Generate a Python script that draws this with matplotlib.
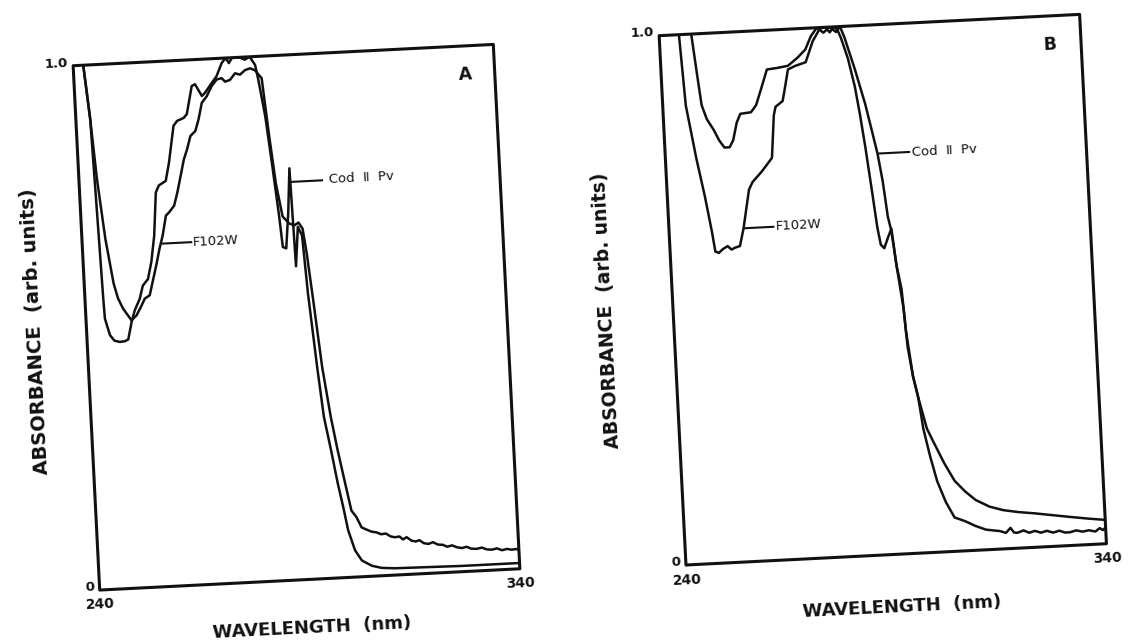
import matplotlib
matplotlib.use("Agg")
import matplotlib.pyplot as plt
from matplotlib.transforms import Affine2D
from matplotlib.patches import Polygon

# ---------------- Panel A spectra ----------------
a_cod_wl = [239.0, 242.4, 243.4, 243.83, 244.35, 244.5, 245.5, 246.5, 247.8, 249.0,
            249.8, 250.8, 251.7, 253.0, 253.9, 255.2, 256.2, 257.2, 258.1, 258.9,
            260.6, 261.6, 263.1, 264.0, 265.6, 266.4, 267.9, 268.7, 270.2, 271.0,
            272.7, 273.9, 275.3, 276.3, 277.0, 277.8, 279.5, 280.8, 282.0, 283.2,
            283.8, 285.0, 286.1, 287.1, 287.6, 288.4, 289.3, 290.1, 290.5, 291.4,
            292.3, 293.0, 294.3, 295.3, 296.6, 297.8, 298.8, 299.7, 301.1, 302.6,
            304.9, 307.2, 310.4, 318.3, 326.2, 333.0, 340.0]
a_cod_abs = [1.12, 1.0, 0.898, 0.745, 0.555, 0.516, 0.484, 0.473, 0.470, 0.471,
             0.474, 0.507, 0.529, 0.550, 0.575, 0.587, 0.619, 0.669, 0.751, 0.764,
             0.772, 0.807, 0.876, 0.885, 0.890, 0.897, 0.950, 0.953, 0.930, 0.936,
             0.954, 0.966, 0.991, 1.0, 0.99, 1.0, 1.0, 0.995, 1.0, 0.984,
             0.955, 0.885, 0.788, 0.693, 0.635, 0.632, 0.70, 0.784, 0.597, 0.672,
             0.655, 0.545, 0.404, 0.308, 0.244, 0.180, 0.135, 0.090, 0.051, 0.031,
             0.020, 0.015, 0.013, 0.012, 0.011, 0.011, 0.011]

a_f102w_wl = [239.0, 242.4, 243.4, 244.28, 245.56, 246.99, 247.86, 248.94, 250.8, 252.05,
              253.35, 254.2, 255.42, 257.32, 258.28, 259.2, 260.22, 261.04, 262.29, 263.22,
              264.19, 265.15, 266.04, 266.99, 268.22, 269.13, 270.09, 271.34, 272.64, 273.9,
              275.1, 275.87, 277.08, 278.33, 279.5, 280.74, 281.95, 283.1, 284.6, 285.63,
              286.7, 287.91, 289.43, 290.6, 291.6, 292.5, 293.2, 294.18, 295.49, 296.94,
              298.17, 299.43, 300.71, 301.83, 302.92, 303.9, 305.2, 306.4, 307.5, 308.6,
              309.7, 310.7, 311.8, 312.6, 313.5, 314.6, 315.6, 316.5, 317.5, 318.6,
              319.7, 320.8, 322.0, 323.0, 324.2, 325.3, 326.5, 327.6, 328.7, 330.0,
              331.2, 332.4, 333.6, 334.8, 336.0, 337.2, 338.3, 339.4, 340.0]
a_f102w_abs = [1.12, 1.0, 0.898, 0.783, 0.668, 0.582, 0.553, 0.533, 0.510, 0.519,
               0.537, 0.550, 0.556, 0.612, 0.643, 0.668, 0.706, 0.712, 0.724, 0.749,
               0.780, 0.811, 0.830, 0.855, 0.864, 0.886, 0.917, 0.929, 0.948, 0.960,
               0.962, 0.955, 0.958, 0.970, 0.967, 0.975, 0.978, 0.974, 0.958, 0.853,
               0.757, 0.693, 0.679, 0.675, 0.680, 0.668, 0.620, 0.530, 0.403, 0.307,
               0.243, 0.185, 0.127, 0.114, 0.094, 0.090, 0.085, 0.083, 0.079, 0.080,
               0.074, 0.072, 0.073, 0.067, 0.071, 0.064, 0.062, 0.064, 0.058, 0.056,
               0.059, 0.054, 0.053, 0.049, 0.051, 0.047, 0.045, 0.047, 0.043, 0.042,
               0.044, 0.040, 0.039, 0.041, 0.037, 0.039, 0.037, 0.038, 0.036]

# ---------------- Panel B spectra ----------------
b_f102w_wl = [239.0, 244.7, 245.48, 247.33, 248.93, 250.17, 250.74, 251.55, 252.6, 253.74,
              254.6, 255.38, 256.64, 257.71, 259.45, 260.36, 262.8, 265.29, 266.24, 266.76,
              268.5, 269.05, 270.14, 271.86, 274.43, 276.36, 278.19, 279.5, 280.5, 281.5,
              282.3, 283.07, 284.5, 285.81, 286.69, 287.55, 288.64, 289.45, 290.07, 290.86,
              291.81, 292.76, 293.55, 294.69, 295.2, 296.12, 297.1, 297.95, 299.24, 300.6,
              302.4, 304.29, 306.74, 309.14, 311.6, 313.2, 314.88, 316.3, 317.43, 318.2,
              319.0, 320.5, 321.8, 323.2, 324.6, 326.0, 327.5, 329.0, 330.3, 331.45,
              333.0, 334.5, 336.0, 337.5, 338.6, 339.3, 340.0]
b_f102w_abs = [1.15, 1.0, 0.866, 0.766, 0.692, 0.625, 0.588, 0.585, 0.592, 0.597,
               0.590, 0.593, 0.596, 0.629, 0.701, 0.715, 0.735, 0.759, 0.839, 0.855,
               0.865, 0.884, 0.924, 0.930, 0.936, 0.975, 0.998, 1.0, 0.99, 1.0,
               0.995, 0.979, 0.939, 0.885, 0.832, 0.772, 0.685, 0.618, 0.585, 0.578,
               0.597, 0.614, 0.544, 0.464, 0.390, 0.334, 0.294, 0.234, 0.181, 0.134,
               0.094, 0.064, 0.056, 0.046, 0.038, 0.036, 0.034, 0.030, 0.039, 0.030,
               0.029, 0.033, 0.028, 0.031, 0.027, 0.030, 0.026, 0.029, 0.025, 0.025,
               0.028, 0.025, 0.027, 0.024, 0.030, 0.026, 0.031]

b_cod_wl = [239.0, 247.62, 248.43, 249.24, 250.31, 251.83, 252.98, 254.14, 255.38, 256.31,
            257.36, 258.31, 260.86, 262.17, 263.67, 265.14, 267.67, 270.19, 272.5, 274.5,
            276.0, 277.5, 279.0, 280.5, 282.0, 283.0, 283.93, 286.02, 288.07, 289.38,
            290.38, 291.29, 292.07, 292.74, 293.55, 294.45, 295.0, 296.12, 297.1, 298.79,
            300.26, 302.5, 304.74, 307.1, 309.48, 312.71, 315.98, 319.5, 323.4, 327.5,
            331.64, 336.0, 340.0]
b_cod_abs = [1.15, 1.0, 0.931, 0.865, 0.838, 0.817, 0.797, 0.783, 0.783, 0.796,
             0.829, 0.845, 0.847, 0.860, 0.893, 0.926, 0.928, 0.931, 0.945, 0.960,
             0.985, 1.0, 0.99, 1.0, 0.99, 1.0, 0.979, 0.918, 0.851, 0.798,
             0.757, 0.704, 0.637, 0.610, 0.544, 0.500, 0.420, 0.334, 0.294, 0.234,
             0.207, 0.167, 0.133, 0.112, 0.095, 0.081, 0.073, 0.068, 0.064, 0.059,
             0.054, 0.049, 0.045]

# ---------------- axis text ----------------
x_range = (240, 340)
y_range = (0.0, 1.0)
x_tick_values = [240, 340]
x_tick_labels = ["240", "340"]
y_tick_values = [0.0, 1.0]
y_tick_labels = ["0", "1.0"]
x_title = "WAVELENGTH  (nm)"
y_title = "ABSORBANCE  (arb. units)"
name_f102w = "F102W"
name_cod = "Cod  \u2161  Pv"

W_PX, H_PX = 1129, 643
DPI = 100
TILT = 2.9  # the two plotted sheets sit slightly turned

fig = plt.figure(figsize=(W_PX / DPI, H_PX / DPI), dpi=DPI)
fig.patch.set_facecolor("white")

INK = "#111111"
FONT = "DejaVu Sans"


def draw_panel(rect, letter, curves, labels, xlab_pos, ylab_pos, letter_pos,
               xlab_size, ylab_size):
    ax = fig.add_axes(rect)
    ax.set_xlim(*x_range)
    ax.set_ylim(*y_range)
    ax.axis("off")

    cx = (rect[0] + rect[2] / 2) * W_PX
    cy = (rect[1] + rect[3] / 2) * H_PX
    rot = Affine2D().rotate_deg_around(cx, cy, TILT)
    t_data = ax.transData + rot
    t_axes = ax.transAxes + rot

    clip = Polygon([(0, 0), (1, 0), (1, 1), (0, 1)], closed=True, transform=t_axes)

    for wl, ab in curves:
        line, = ax.plot(wl, ab, color=INK, lw=1.8, transform=t_data,
                        solid_joinstyle="round", solid_capstyle="round")
        line.set_clip_path(clip)
        line.set_clip_box(None)

    frame = Polygon([(0, 0), (1, 0), (1, 1), (0, 1)], closed=True, fill=False,
                    edgecolor=INK, lw=2.2, transform=t_axes, clip_on=False,
                    joinstyle="round")
    ax.add_patch(frame)

    # curve labels with leader lines
    for text, (x0, x1, yl), (tx, ty) in labels:
        ax.plot([x0, x1], [yl, yl], color=INK, lw=1.5, transform=t_data, clip_on=False)
        ax.text(tx, ty, text, transform=t_data, rotation=TILT, rotation_mode="anchor",
                ha="left", va="center", fontsize=9.5, family=FONT, color=INK)

    # tick labels at the ends of each axis
    for val, lab in zip(x_tick_values, x_tick_labels):
        ax.text(val, -0.028, lab, transform=t_data, rotation=TILT, rotation_mode="anchor",
                ha="center", va="center", fontsize=10, family=FONT, color=INK,
                fontweight="bold")
    for val, lab in zip(y_tick_values, y_tick_labels):
        ax.text(x_range[0] - 1.3, val + 0.006, lab, transform=t_data, rotation=TILT,
                rotation_mode="anchor", ha="right", va="center", fontsize=9.5,
                family=FONT, color=INK, fontweight="bold")

    ax.text(letter_pos[0], letter_pos[1], letter, transform=t_axes, rotation=TILT,
            rotation_mode="anchor", ha="center", va="center", fontsize=12.5,
            family=FONT, color=INK, fontweight="bold")
    ax.text(xlab_pos[0], xlab_pos[1], x_title, transform=t_axes, rotation=TILT,
            rotation_mode="anchor", ha="center", va="center", fontsize=xlab_size,
            family=FONT, color=INK, fontweight="bold")
    ax.text(ylab_pos[0], ylab_pos[1], y_title, transform=t_axes, rotation=90 + TILT,
            rotation_mode="anchor", ha="center", va="center", fontsize=ylab_size,
            family=FONT, color=INK, fontweight="bold")
    return ax


draw_panel(
    [0.07631, 0.09837, 0.37263, 0.81649], "A",
    [(a_cod_wl, a_cod_abs), (a_f102w_wl, a_f102w_abs)],
    [(name_f102w, (259.1, 265.9, 0.653), (266.3, 0.652)),
     (name_cod, (290.3, 297.7, 0.758), (299.4, 0.758))],
    xlab_pos=(0.499, -0.093), ylab_pos=(-0.122, 0.499), letter_pos=(0.929, 0.945),
    xlab_size=13, ylab_size=14,
)

draw_panel(
    [0.59548, 0.13733, 0.3729, 0.82426], "B",
    [(b_cod_wl, b_cod_abs), (b_f102w_wl, b_f102w_abs)],
    [(name_f102w, (258.1, 264.8, 0.629), (265.3, 0.630)),
     (name_cod, (290.8, 297.9, 0.757), (298.6, 0.755))],
    xlab_pos=(0.507, -0.100), ylab_pos=(-0.158, 0.488), letter_pos=(0.926, 0.945),
    xlab_size=13, ylab_size=13.5,
)

fig.savefig("out.png", dpi=DPI, facecolor="white")
